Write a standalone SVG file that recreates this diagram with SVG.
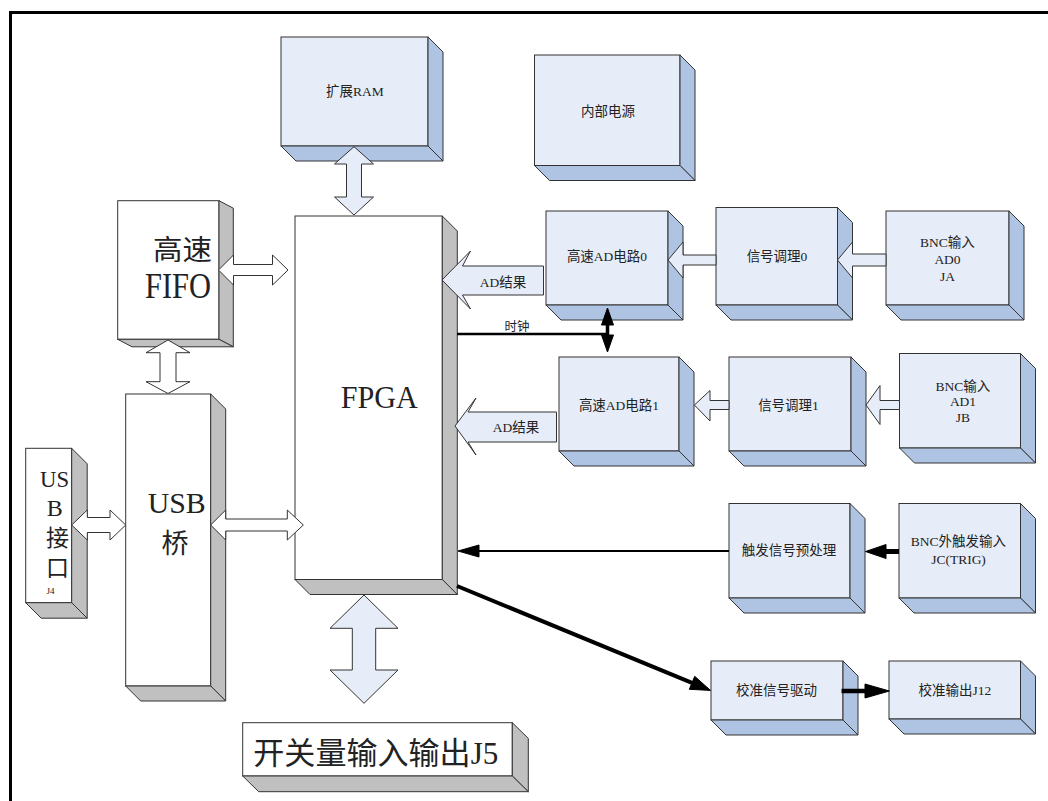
<svg xmlns="http://www.w3.org/2000/svg" width="1048" height="801" viewBox="0 0 1048 801">
<style>
.f{fill:#E7EDF8;stroke:#333;stroke-width:1}
.sd{fill:#AFC4E3;stroke:#333;stroke-width:1;stroke-linejoin:round}
.w{fill:#fff;stroke:#333;stroke-width:1}
.g{fill:#C0C0C0;stroke:#333;stroke-width:1;stroke-linejoin:round}
.ba{fill:#E7EDF8;stroke:#333;stroke-width:1;stroke-linejoin:miter}
.wa{fill:#fff;stroke:#333;stroke-width:1;stroke-linejoin:miter}
.ln{stroke:#000;fill:none}
.hd{fill:#000;stroke:#000;stroke-width:1;stroke-linejoin:miter}
text{font-family:"Liberation Serif","Noto Sans CJK SC",serif;fill:#222}
.s{font-size:13.5px;text-anchor:middle}
</style>
<path d="M10.5,801 V12.5 H1048" fill="none" stroke="#000" stroke-width="3"/>

<g id="ram">
<rect class="f" x="281" y="37" width="147" height="109"/>
<polygon class="sd" points="428,37 443,52 443,161 428,146"/>
<polygon class="sd" points="281,146 428,146 443,161 296,161"/>
<text class="s" x="355" y="95.5">扩展RAM</text>
</g>
<g id="power">
<rect class="f" x="534.5" y="55" width="145.5" height="110.5"/>
<polygon class="sd" points="680,55 695,70 695,180.5 680,165.5"/>
<polygon class="sd" points="534.5,165.5 680,165.5 695,180.5 549.5,180.5"/>
<text class="s" x="608" y="115.5">内部电源</text>
</g>
<g id="ad0">
<rect class="f" x="546" y="211" width="122" height="94"/>
<polygon class="sd" points="668,211 683,226 683,320 668,305"/>
<polygon class="sd" points="546,305 668,305 683,320 561,320"/>
<text class="s" x="607" y="261">高速AD电路0</text>
</g>
<g id="cond0">
<rect class="f" x="716" y="207.5" width="121.5" height="97.5"/>
<polygon class="sd" points="837.5,207.5 852.5,222.5 852.5,320 837.5,305"/>
<polygon class="sd" points="716,305 837.5,305 852.5,320 731,320"/>
<text class="s" x="777" y="261">信号调理0</text>
</g>
<g id="bnc0">
<rect class="f" x="886" y="211" width="123" height="94"/>
<polygon class="sd" points="1009,211 1024,226 1024,320 1009,305"/>
<polygon class="sd" points="886,305 1009,305 1024,320 901,320"/>
<text class="s" x="947.5" y="246.5">BNC输入</text>
<text class="s" x="947.5" y="264">AD0</text>
<text class="s" x="947.5" y="280.5">JA</text>
</g>
<g id="ad1">
<rect class="f" x="559" y="357" width="120" height="94"/>
<polygon class="sd" points="679,357 694,372 694,466 679,451"/>
<polygon class="sd" points="559,451 679,451 694,466 574,466"/>
<text class="s" x="619" y="409.5">高速AD电路1</text>
</g>
<g id="cond1">
<rect class="f" x="729" y="357" width="122" height="94"/>
<polygon class="sd" points="851,357 866,372 866,466 851,451"/>
<polygon class="sd" points="729,451 851,451 866,466 744,466"/>
<text class="s" x="788.5" y="409.5">信号调理1</text>
</g>
<g id="bnc1">
<rect class="f" x="899.5" y="353.5" width="121" height="94.5"/>
<polygon class="sd" points="1020.5,353.5 1035.5,368.5 1035.5,463 1020.5,448"/>
<polygon class="sd" points="899.5,448 1020.5,448 1035.5,463 914.5,463"/>
<text class="s" x="963" y="390.5">BNC输入</text>
<text class="s" x="963" y="406">AD1</text>
<text class="s" x="963" y="421.5">JB</text>
</g>
<g id="trigpre">
<rect class="f" x="729" y="503.5" width="121" height="94.5"/>
<polygon class="sd" points="850,503.5 865,518.5 865,613 850,598"/>
<polygon class="sd" points="729,598 850,598 865,613 744,613"/>
<text class="s" x="789" y="555">触发信号预处理</text>
</g>
<g id="bnctrig">
<rect class="f" x="899" y="503.5" width="121.5" height="94.5"/>
<polygon class="sd" points="1020.5,503.5 1035.5,518.5 1035.5,613 1020.5,598"/>
<polygon class="sd" points="899,598 1020.5,598 1035.5,613 914,613"/>
<text class="s" x="958.5" y="546">BNC外触发输入</text>
<text class="s" x="958.5" y="564">JC(TRIG)</text>
</g>
<g id="caldrv">
<rect class="f" x="711" y="661" width="132" height="59"/>
<polygon class="sd" points="843,661 858,676 858,735 843,720"/>
<polygon class="sd" points="711,720 843,720 858,735 726,735"/>
<text class="s" x="776.5" y="695">校准信号驱动</text>
</g>
<g id="calout">
<rect class="f" x="889" y="661" width="131.5" height="58"/>
<polygon class="sd" points="1020.5,661 1035.5,676 1035.5,734 1020.5,719"/>
<polygon class="sd" points="889,719 1020.5,719 1035.5,734 904,734"/>
<text class="s" x="955" y="695">校准输出J12</text>
</g>

<g id="fifo">
<rect class="w" x="117.7" y="200.7" width="101.3" height="138.6"/>
<polygon class="g" points="219,200.7 233.3,208.2 233.3,346.8 219,339.3"/>
<polygon class="g" points="117.7,339.3 219,339.3 233.3,346.8 132,346.8"/>
<text x="153" y="260" font-size="28" textLength="59" lengthAdjust="spacingAndGlyphs">高速</text>
<text x="145" y="298.3" font-size="35" textLength="66" lengthAdjust="spacingAndGlyphs">FIFO</text>
</g>
<g id="fpga">
<rect class="w" x="295" y="216" width="147.3" height="363.5"/>
<polygon class="g" points="442.3,216 457.3,231 457.3,594.5 442.3,579.5"/>
<polygon class="g" points="295,579.5 442.3,579.5 457.3,594.5 310,594.5"/>
<text x="340.7" y="408.3" font-size="32" textLength="77" lengthAdjust="spacingAndGlyphs">FPGA</text>
</g>
<g id="usbbridge">
<rect class="w" x="125.7" y="394" width="85" height="292"/>
<polygon class="g" points="210.7,394 225.7,409 225.7,701 210.7,686"/>
<polygon class="g" points="125.7,686 210.7,686 225.7,701 140.7,701"/>
<text x="147.7" y="513.3" font-size="30" textLength="58" lengthAdjust="spacingAndGlyphs">USB</text>
<text x="175" y="553" font-size="27" text-anchor="middle">桥</text>
</g>
<g id="usbport">
<rect class="w" x="25.7" y="448.3" width="46" height="154.4"/>
<polygon class="g" points="71.7,448.3 87.2,463.8 87.2,618.2 71.7,602.7"/>
<polygon class="g" points="25.7,602.7 71.7,602.7 87.2,618.2 41.2,618.2"/>
<text x="40" y="487.3" font-size="24" textLength="29" lengthAdjust="spacingAndGlyphs">US</text>
<text x="46.7" y="516" font-size="24">B</text>
<text x="57.5" y="546" font-size="23" text-anchor="middle">接</text>
<text x="57.5" y="576" font-size="23" text-anchor="middle">口</text>
<text x="46.5" y="593.5" font-size="9">J4</text>
</g>
<g id="dio">
<rect class="w" x="242.7" y="722.7" width="269.6" height="53.3"/>
<polygon class="g" points="512.3,722.7 528.3,738.4 528.3,791.7 512.3,776"/>
<polygon class="g" points="242.7,776 512.3,776 528.3,791.7 258.7,791.7"/>
<text x="253.3" y="763.5" font-size="31" textLength="245" lengthAdjust="spacingAndGlyphs">开关量输入输出J5</text>
</g>

<g id="connectors">
<polygon class="ba" points="354,146.7 373.5,164 361.5,164 361.5,197 373.5,197 354,215 334.5,197 346.5,197 346.5,164 334.5,164"/>
<polygon class="wa" points="218.5,270 233.5,255 233.5,264.5 272.5,264.5 272.5,255 288,270 272.5,285 272.5,275.5 233.5,275.5 233.5,285"/>
<polygon class="wa" points="168,340 190,352.7 176,352.7 176,381.7 190,381.7 168,393.5 146,381.7 160,381.7 160,352.7 146,352.7"/>
<polygon class="wa" points="71.7,525 87.3,510 87.3,517.5 110,517.5 110,510 125.7,525 110,540 110,532.5 87.3,532.5 87.3,540"/>
<polygon class="wa" points="210.7,525 225.7,510 225.7,519 287.3,519 287.3,510 303.3,525 287.3,540 287.3,531 225.7,531 225.7,540"/>
<polygon class="ba" points="364,595 398,628.3 375.7,628.3 375.7,670 398,670 364,703.3 330,670 352.3,670 352.3,628.3 330,628.3"/>
<polygon class="ba" points="442,280 470.5,251 462.5,266 543.5,266 543.5,295 462.5,295 470.5,309"/>
<text class="s" x="503" y="287">AD结果</text>
<polygon class="ba" points="455,426 476,398 468,412 556.5,412 556.5,442 468,442 476,455"/>
<text class="s" x="516" y="432">AD结果</text>
<polygon class="ba" points="668,260 683,242 683,255 716,255 716,265 683,265 683,278"/>
<polygon class="ba" points="837.5,260 852.5,242 852.5,254 886,254 886,266 852.5,266 852.5,278"/>
<polygon class="ba" points="694.4,405 710,390.5 710,400.5 729,400.5 729,409.5 710,409.5 710,421"/>
<polygon class="ba" points="866,405 880,385.5 880,400.5 899.5,400.5 899.5,409.5 880,409.5 880,424.5"/>
<line class="ln" x1="457" y1="334" x2="608" y2="334" stroke-width="2.5"/>
<line class="ln" x1="607.5" y1="324" x2="607.5" y2="336" stroke-width="3.5"/>
<polygon class="hd" points="607.5,308 613.5,325 601.5,325"/>
<polygon class="hd" points="607.5,352 613.5,335 601.5,335"/>
<text x="517" y="331" font-size="12.5" text-anchor="middle">时钟</text>
<line class="ln" x1="477" y1="551" x2="729" y2="551" stroke-width="2"/>
<polygon class="hd" points="458,551 479,545 479,557"/>
<line class="ln" x1="884" y1="551.5" x2="899" y2="551.5" stroke-width="5"/>
<polygon class="hd" points="865.5,551.5 886,544.5 886,558.5"/>
<line class="ln" x1="457" y1="586" x2="692" y2="682.8" stroke-width="4"/>
<polygon class="hd" points="710.5,690.4 689.3,689.3 694.7,676.3"/>
<line class="ln" x1="841.5" y1="691" x2="866" y2="691" stroke-width="4.5"/>
<polygon class="hd" points="889.4,691 865,684 865,698"/>
</g>
</svg>
